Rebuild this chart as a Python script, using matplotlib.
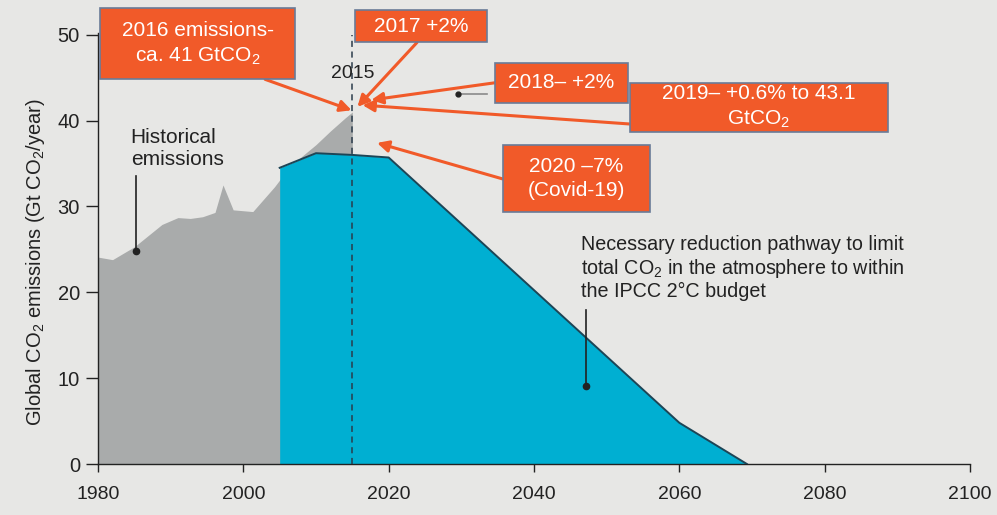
import matplotlib
matplotlib.use("Agg")
import matplotlib.pyplot as plt
from matplotlib.patches import Rectangle

plt.rcParams['font.family'] = ['Liberation Sans', 'DejaVu Sans']
plt.rcParams['mathtext.fontset'] = 'custom'
plt.rcParams['mathtext.rm'] = 'Liberation Sans'
plt.rcParams['mathtext.it'] = 'Liberation Sans:italic'
plt.rcParams['mathtext.bf'] = 'Liberation Sans:bold'

# ---- data ----
hist_years = [1980, 1982, 1985, 1988.8, 1991, 1992.7, 1994.4, 1996.1, 1997.2, 1998.6,
              2001.3, 2004.3, 2006, 2008, 2010, 2012, 2014, 2015]
hist_values = [24.1, 23.8, 25.3, 27.9, 28.7, 28.6, 28.8, 29.3, 32.5, 29.6,
               29.4, 32.3, 34.2, 35.8, 37.2, 38.8, 40.3, 41.0]

path_years = [2005, 2010, 2015, 2020, 2060, 2069.3]
path_values = [34.5, 36.2, 36.0, 35.7, 4.8, 0.0]

x_ticks = [1980, 2000, 2020, 2040, 2060, 2080, 2100]
y_ticks = [0, 10, 20, 30, 40, 50]
marker_year = 2015

# annotation boxes: (text, x0, x1, y0, y1, arrow_from, arrow_to)
boxes = [
    ("2016 emissions-\nca. 41 GtCO$_2$", 1980.3, 2007.1, 44.8, 53.1, (2003.0, 44.8), (2014.9, 41.2)),
    ("2017 +2%", 2015.35, 2033.5, 49.1, 52.9, (2023.9, 49.1), (2015.7, 41.6)),
    ("2018\u2013 +2%", 2034.6, 2052.9, 42.1, 46.7, (2034.6, 44.4), (2017.6, 42.4)),
    ("2019\u2013 +0.6% to 43.1\nGtCO$_2$", 2053.2, 2088.7, 38.7, 44.4, (2053.2, 39.6), (2016.4, 41.8)),
    ("2020 \u20137%\n(Covid-19)", 2035.7, 2055.9, 29.3, 37.2, (2035.7, 33.2), (2018.4, 37.4)),
]

BG = '#e7e7e5'
GREY = '#a9abab'
BLUE = '#00afd2'
ORANGE = '#f15a29'
EDGE = '#6a7b98'
DARK = '#222222'

fig = plt.figure(figsize=(9.97, 5.15), dpi=100, facecolor=BG)
ax = fig.add_axes([98/997, 1-464/515, (970-98)/997, (464-33)/515])
ax.set_facecolor(BG)

ax.fill_between(hist_years, hist_values, 0, color=GREY, lw=0, zorder=1)
ax.fill_between(path_years, path_values, 0, color=BLUE, lw=0, zorder=2)
ax.plot(path_years, path_values, color='#1d4556', lw=1.4, zorder=3)

ax.set_xlim(1980, 2100)
ax.set_ylim(0, 50.2)
ax.set_xticks(x_ticks)
ax.set_yticks(y_ticks)
for s in ['top', 'right']:
    ax.spines[s].set_visible(False)
for s in ['left', 'bottom']:
    ax.spines[s].set_color(DARK)
    ax.spines[s].set_linewidth(1.0)
ax.tick_params(axis='x', length=6, width=1, pad=10, labelsize=14, colors=DARK)
ax.tick_params(axis='y', length=9, width=1, pad=4, labelsize=14.5, colors=DARK)
ax.set_ylabel('Global CO$_2$ emissions (Gt CO$_2$/year)', fontsize=14.5, color=DARK)
ax.yaxis.set_label_coords(-0.059, 0.469)

# 2015 dashed line
ax.axvline(marker_year, ymin=0, ymax=50/50.2, color='#2b3b4b', lw=1.1, ls=(0, (4, 3)), zorder=4)
ax.text(marker_year, 45.5, '2015', ha='center', va='center', fontsize=14, color=DARK, zorder=5)

# labels
ax.text(1984.5, 36.7, 'Historical\nemissions', ha='left', va='center', fontsize=15,
        color=DARK, linespacing=1.2, zorder=6)
ax.plot([1985.2, 1985.2], [33.6, 24.8], color=DARK, lw=1.2, zorder=6)
ax.plot([1985.2], [24.8], 'o', color=DARK, ms=4.5, zorder=6)

ax.text(2046.4, 22.8, 'Necessary reduction pathway to limit\ntotal CO$_2$ in the atmosphere to within\nthe IPCC 2\u00b0C budget',
        ha='left', va='center', fontsize=14.2, color=DARK, linespacing=1.15, zorder=6)
ax.plot([2047.1, 2047.1], [17.9, 9.1], color=DARK, lw=1.2, zorder=6)
ax.plot([2047.1], [9.1], 'o', color=DARK, ms=4.5, zorder=6)

# stray leader near 2018 box
ax.plot([2029.5, 2033.6], [43.1, 43.1], color='#8a8a8a', lw=1.2, zorder=6)
ax.plot([2029.5], [43.1], 'o', color=DARK, ms=3.5, zorder=6)

# arrows and boxes
for text, x0, x1, y0, y1, src, dst in boxes:
    ax.annotate('', xy=dst, xytext=src,
                arrowprops=dict(arrowstyle='-|>', color=ORANGE, lw=2.2,
                                mutation_scale=17, shrinkA=0, shrinkB=0),
                zorder=7, annotation_clip=False)
for text, x0, x1, y0, y1, src, dst in boxes:
    r = Rectangle((x0, y0), x1 - x0, y1 - y0, facecolor=ORANGE, edgecolor=EDGE,
                  lw=1.2, zorder=8, clip_on=False)
    ax.add_patch(r)
    ax.text((x0 + x1) / 2, (y0 + y1) / 2, text, ha='center', va='center',
            fontsize=15, color='white', linespacing=1.35, zorder=9, clip_on=False)

fig.savefig('out.png', dpi=100, facecolor=BG)
